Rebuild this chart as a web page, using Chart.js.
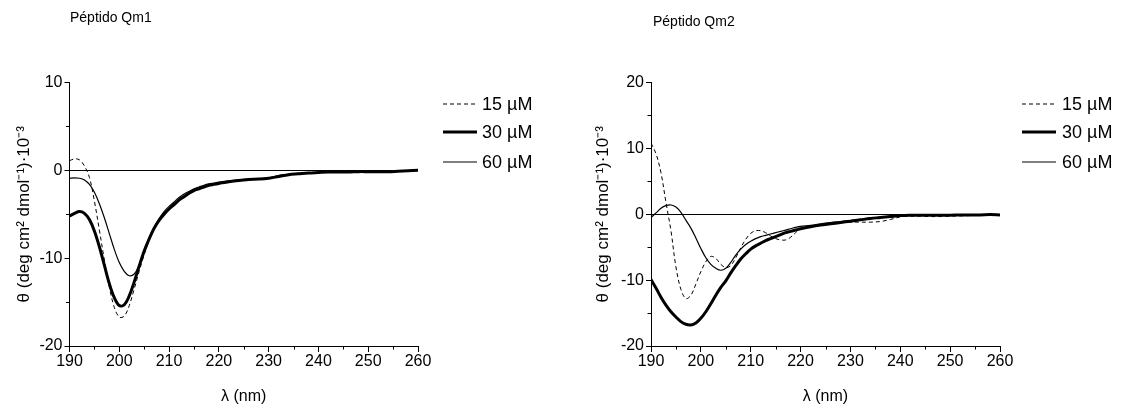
<!DOCTYPE html>
<html><head><meta charset="utf-8">
<script src="https://cdn.jsdelivr.net/npm/chart.js@4.4.1/dist/chart.umd.min.js"></script>
<style>
html,body{margin:0;padding:0;background:#fff;}
#wrap{position:relative;width:1125px;height:408px;overflow:hidden;background:#fff;}
canvas{position:absolute;top:0;}
#c1{left:0;} #c2{left:560px;}
</style></head><body>
<div id="wrap"><canvas id="c1" width="560" height="408"></canvas><canvas id="c2" width="565" height="408"></canvas></div>
<script>
// ---- data ----
const wavelengths = [190,191,192,193,194,195,196,197,198,199,200,201,202,203,204,205,206,207,208,209,210,211,212,213,214,215,216,217,218,219,220,
  222,224,226,228,230,232,234,236,238,240,242,244,246,248,250,252,254,256,258,260];
const seriesLabels = ['15 µM', '30 µM', '60 µM'];
const chartTitles = ['Péptido Qm1', 'Péptido Qm2'];
const xAxisTitle = 'λ (nm)';
const yAxisTitle = 'θ (deg cm² dmol⁻¹)·10⁻³';

const qm1_15 = [1.1,1.3,1.2,0.5,-0.8,-3.5,-6.8,-10.2,-13.3,-15.6,-16.7,-16.6,-15.4,-13.5,-11.5,-9.6,-8.0,-6.7,-5.7,-4.9,-4.3,-3.8,-3.3,-2.9,-2.5,-2.2,-2.0,-1.8,-1.6,-1.5,-1.4,
  -1.25,-1.1,-1.0,-0.95,-0.85,-0.65,-0.45,-0.35,-0.3,-0.25,-0.2,-0.2,-0.2,-0.15,-0.15,-0.15,-0.15,-0.1,-0.05,0.05];
const qm1_30 = [-5.2,-4.9,-4.7,-4.9,-5.6,-6.9,-8.7,-10.8,-12.9,-14.5,-15.4,-15.3,-14.3,-12.7,-10.9,-9.2,-7.8,-6.6,-5.7,-5.0,-4.4,-3.9,-3.4,-3.0,-2.6,-2.3,-2.1,-1.9,-1.7,-1.6,-1.5,
  -1.3,-1.15,-1.05,-1.0,-0.9,-0.7,-0.5,-0.4,-0.3,-0.25,-0.2,-0.2,-0.2,-0.15,-0.15,-0.15,-0.15,-0.1,-0.05,0.0];
const qm1_60 = [-0.9,-0.85,-0.9,-1.1,-1.6,-2.5,-3.8,-5.4,-7.2,-9.0,-10.5,-11.5,-12.0,-11.8,-10.8,-9.3,-7.8,-6.5,-5.5,-4.7,-4.1,-3.6,-3.1,-2.7,-2.4,-2.1,-1.9,-1.7,-1.55,-1.45,-1.35,
  -1.2,-1.1,-1.0,-0.95,-0.85,-0.6,-0.45,-0.35,-0.3,-0.25,-0.2,-0.2,-0.15,-0.15,-0.15,-0.15,-0.1,-0.1,-0.05,0.05];

const qm2_15 = [10.8,9.2,6.3,1.8,-2.5,-8.0,-11.4,-12.8,-12.3,-10.6,-8.7,-7.2,-6.4,-6.7,-7.6,-8.1,-7.8,-6.6,-5.1,-3.8,-2.9,-2.5,-2.5,-2.8,-3.3,-3.7,-3.9,-3.9,-3.5,-2.8,-2.2,
  -1.9,-1.6,-1.4,-1.3,-1.2,-1.2,-1.2,-1.1,-0.8,-0.4,-0.3,-0.3,-0.35,-0.35,-0.3,-0.25,-0.2,-0.15,-0.1,-0.15];
const qm2_30 = [-9.9,-11.2,-12.6,-13.8,-14.8,-15.6,-16.3,-16.7,-16.8,-16.5,-15.8,-14.8,-13.6,-12.3,-11.1,-10.1,-8.9,-7.8,-6.8,-6.0,-5.3,-4.8,-4.4,-4.0,-3.7,-3.4,-3.1,-2.8,-2.6,-2.4,-2.2,
  -1.9,-1.65,-1.45,-1.25,-1.05,-0.85,-0.65,-0.5,-0.35,-0.2,-0.15,-0.15,-0.15,-0.15,-0.15,-0.1,-0.1,-0.1,-0.05,-0.1];
const qm2_60 = [-0.5,0.2,0.9,1.3,1.4,1.1,0.3,-0.9,-2.1,-3.6,-5.2,-6.6,-7.6,-8.2,-8.5,-8.2,-7.3,-6.2,-5.3,-4.6,-4.1,-3.7,-3.4,-3.2,-3.0,-2.8,-2.6,-2.4,-2.2,-2.0,-1.85,
  -1.7,-1.45,-1.25,-1.1,-0.95,-0.8,-0.6,-0.45,-0.35,-0.2,-0.15,-0.15,-0.15,-0.15,-0.1,-0.1,-0.1,-0.1,-0.05,-0.1];

// ---- rendering ----
const FONT = "'Liberation Sans', Arial, Helvetica, sans-serif";
Chart.defaults.font.family = FONT;
Chart.defaults.color = '#000';

const seriesStyles = [
  { borderWidth: 1, borderDash: [4, 3] },
  { borderWidth: 3, borderDash: [] },
  { borderWidth: 1.2, borderDash: [] }
];

const decorPlugin = {
  id: 'decor',
  afterDraw(chart, args, opts) {
    const ctx = chart.ctx;
    const xs = chart.scales.x, ys = chart.scales.y;
    const ca = chart.chartArea;
    ctx.save();
    ctx.strokeStyle = '#000';
    ctx.lineWidth = 1;
    ctx.setLineDash([]);
    // minor ticks
    for (let v = xs.min + 5; v < xs.max; v += 10) {
      const px = Math.round(xs.getPixelForValue(v)) + 0.5;
      ctx.beginPath(); ctx.moveTo(px, ca.bottom); ctx.lineTo(px, ca.bottom + 3.5); ctx.stroke();
    }
    for (let v = ys.min + 5; v < ys.max; v += 10) {
      const py = Math.round(ys.getPixelForValue(v)) + 0.5;
      ctx.beginPath(); ctx.moveTo(ca.left - 3.5, py); ctx.lineTo(ca.left, py); ctx.stroke();
    }
    // title
    ctx.fillStyle = '#000';
    ctx.textBaseline = 'middle';
    ctx.textAlign = 'left';
    ctx.font = opts.titleSize + 'px ' + FONT;
    ctx.fillText(opts.title, opts.titleX, opts.titleY);
    // legend
    chart.data.datasets.forEach((ds, i) => {
      const y = opts.rows[i];
      ctx.setLineDash(ds.borderDash || []);
      ctx.lineWidth = ds.borderWidth;
      ctx.beginPath(); ctx.moveTo(opts.lx1, y); ctx.lineTo(opts.lx2, y); ctx.stroke();
      ctx.setLineDash([]);
      ctx.font = opts.legendSize + 'px ' + FONT;
      ctx.fillText(ds.label, opts.tx, y + 1);
    });
    ctx.restore();
  }
};

function makeChart(id, title, series, yMin, yMax, geo) {
  const datasets = series.map((vals, i) => ({
    label: seriesLabels[i],
    data: wavelengths.map((x, k) => ({ x: x, y: vals[k] })),
    borderColor: '#000',
    backgroundColor: '#000',
    borderWidth: seriesStyles[i].borderWidth,
    borderDash: seriesStyles[i].borderDash,
    pointRadius: 0,
    tension: 0.35,
    fill: false
  }));
  return new Chart(document.getElementById(id), {
    type: 'line',
    data: { datasets },
    plugins: [decorPlugin],
    options: {
      responsive: false,
      animation: false,
      events: [],
      layout: { padding: { left: 0, top: 82.5, right: geo.padRight, bottom: 0 } },
      plugins: {
        legend: { display: false },
        tooltip: { enabled: false },
        decor: {
          title: title, titleX: geo.titleX, titleY: geo.titleY, titleSize: 14,
          rows: [104, 132, 162], lx1: geo.lx1, lx2: geo.lx2, tx: geo.tx, legendSize: 18
        }
      },
      scales: {
        x: {
          type: 'linear', min: 190, max: 260,
          afterFit(s) { s.height = 62; },
          border: { display: true, color: '#000', width: 1 },
          grid: {
            drawOnChartArea: false, drawTicks: true, tickLength: 6,
            color: 'rgba(0,0,0,0)',
            tickColor: (c) => (c.tick && c.tick.value % 10 === 0) ? '#000' : 'rgba(0,0,0,0)'
          },
          ticks: {
            stepSize: 5, autoSkip: false, maxRotation: 0, padding: 0,
            font: { size: 16 }, color: '#000',
            callback: (v) => (v % 10 === 0 ? String(v) : '')
          },
          title: { display: true, text: xAxisTitle, font: { size: 16 }, color: '#000', padding: { top: 0, bottom: 1.5 } }
        },
        y: {
          type: 'linear', min: yMin, max: yMax,
          afterFit(s) { s.width = geo.yWidth; },
          border: { display: true, color: '#000', width: 1 },
          grid: {
            drawOnChartArea: true, drawTicks: true, tickLength: 5,
            color: (c) => (c.tick && c.tick.value === 0) ? '#000' : 'rgba(0,0,0,0)',
            lineWidth: 1,
            tickColor: (c) => (c.tick && c.tick.value % 10 === 0) ? '#000' : 'rgba(0,0,0,0)'
          },
          ticks: {
            stepSize: 5, autoSkip: false, padding: 2,
            font: { size: 16 }, color: '#000',
            callback: (v) => (v % 10 === 0 ? String(v) : '')
          },
          title: { display: true, text: yAxisTitle, font: { size: 17 }, color: '#000', padding: { top: geo.yTitlePad, bottom: 0 } }
        }
      }
    }
  });
}

makeChart('c1', chartTitles[0], [qm1_15, qm1_30, qm1_60], -20, 10,
  { padRight: 142, yWidth: 69.5, titleX: 70, titleY: 18, lx1: 443, lx2: 477, tx: 482, yTitlePad: 14 });
makeChart('c2', chartTitles[1], [qm2_15, qm2_30, qm2_60], -20, 20,
  { padRight: 125, yWidth: 91, titleX: 93, titleY: 22, lx1: 462, lx2: 496, tx: 502, yTitlePad: 33 });
</script>
</body></html>
